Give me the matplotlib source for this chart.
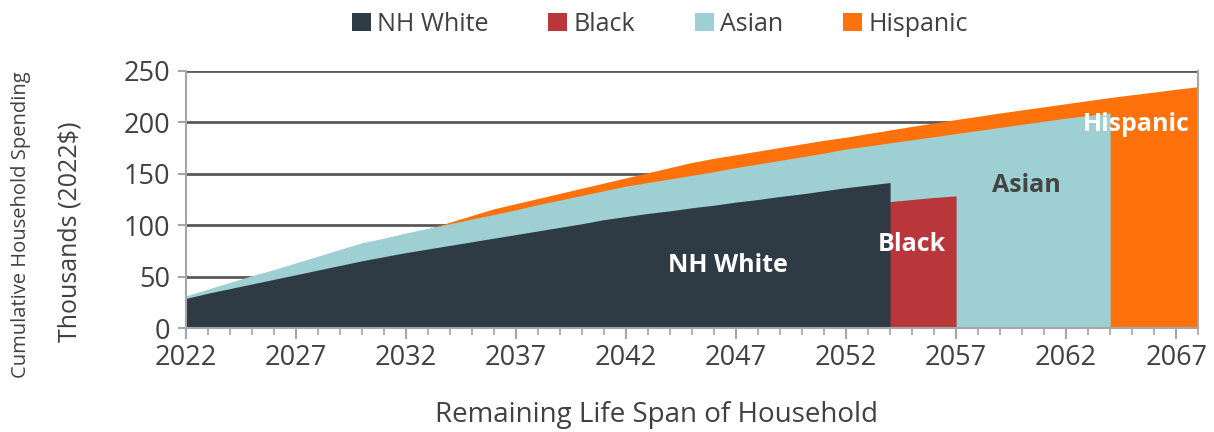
import matplotlib
matplotlib.use("Agg")
import matplotlib.pyplot as plt
from matplotlib.patches import Patch
from matplotlib.ticker import MultipleLocator

years_white = list(range(2022, 2055))
nh_white = [29, 34, 38.5, 43, 47.5, 52, 56.5, 61, 65.5, 69.5, 73.5, 77, 80.5, 84,
            87.5, 91, 94.5, 98, 101.5, 105.5, 108.5, 111.5, 114, 117, 119.5, 122.5,
            125, 128, 130.5, 133.5, 136.5, 139, 141.5]

years_black = list(range(2022, 2058))
black = [24, 28, 32, 36, 40, 44, 48, 52, 55.5, 59, 62.5, 66, 69.5, 73, 76, 79, 82,
         85, 88, 91, 94, 97, 100, 102.5, 105, 107.5, 110, 112.5, 115, 117, 119,
         121, 123, 125, 127, 128.5]

years_asian = list(range(2022, 2065))
asian = [31.5, 38, 44.5, 51, 57, 63.5, 70, 76.5, 83, 87.5, 92.5, 97, 101.5, 106,
         110.5, 115, 120, 124.5, 129, 133.5, 138, 141.5, 145, 148.5, 152, 156,
         159.5, 163, 166.5, 170, 174, 177, 180, 183, 186, 189, 192, 195, 198,
         201, 204, 206.5, 209]

years_hisp = list(range(2022, 2069))
hispanic = [30.5, 37, 43.5, 50, 56, 62.5, 69, 75.5, 82, 86.5, 91.5, 96.5, 103,
            109.5, 116, 121, 126, 131, 136, 141, 146, 151, 156, 161, 165, 168.5,
            172, 175.5, 179, 182.5, 185.5, 189, 192.5, 196, 199.3, 202.6, 205.8,
            209, 212, 215, 218, 221, 224, 226.7, 229.3, 232, 234.5]

series_names = ["NH White", "Black", "Asian", "Hispanic"]
colors = ["#2e3a44", "#b9373b", "#9ecfd3", "#ff710a"]
x_ticks = list(range(2022, 2068, 5))
y_ticks = [0, 50, 100, 150, 200, 250]

plt.rcParams['font.family'] = ['Open Sans', 'DejaVu Sans']
text_color = "#404040"

fig = plt.figure(figsize=(12.14, 4.32), dpi=100)
ax = fig.add_axes([0.153, 0.240, 0.834, 0.5963])

ax.fill_between(years_hisp, 0, hispanic, color=colors[3], lw=0, zorder=2)
ax.fill_between(years_asian, 0, asian, color=colors[2], lw=0, zorder=3)
ax.fill_between(years_black, 0, black, color=colors[1], lw=0, zorder=4)
ax.fill_between(years_white, 0, nh_white, color=colors[0], lw=0, zorder=5)

ax.set_xlim(2022, 2068)
ax.set_ylim(0, 250)
ax.set_yticks(y_ticks)
ax.set_xticks(x_ticks)
ax.xaxis.set_minor_locator(MultipleLocator(1))
for y in y_ticks[1:]:
    ax.axhline(y, color="#5a5a5a", lw=2, zorder=1)

for s in ["left", "bottom", "right"]:
    ax.spines[s].set_color("#a6a6a6")
    ax.spines[s].set_linewidth(1.5)
    ax.spines[s].set_zorder(6)
ax.spines["top"].set_visible(False)

ax.tick_params(axis="y", length=6, width=1.5, color="#a6a6a6", labelsize=19.5,
               labelcolor=text_color, pad=5)
ax.tick_params(axis="x", which="major", direction="inout", length=16, width=1.5,
               color="#a6a6a6", labelsize=19.5, labelcolor=text_color, pad=3)
ax.tick_params(axis="x", which="minor", direction="out", length=5, width=1.2,
               color="#a6a6a6")

ax.set_xlabel("Remaining Life Span of Household", fontsize=20, color=text_color)
ax.xaxis.set_label_coords(0.465, -0.335)
ax.xaxis.label.set_va("center")
ax.set_ylabel("Thousands (2022$)", fontsize=18, color=text_color)
ax.yaxis.set_label_coords(-0.114, 0.374)
ax.yaxis.label.set_va("center")
fig.text(0.017, 0.479, "Cumulative Household Spending", rotation=90, fontsize=14.5,
         color=text_color, ha="center", va="center")

lab_kw = dict(fontsize=18, fontweight="bold", ha="center", va="center", zorder=10)
ax.text(2046.65, 61.4, "NH White", color="white", **lab_kw)
ax.text(2054.97, 81.8, "Black", color="white", **lab_kw)
ax.text(2060.2, 139.0, "Asian", color="#444444", **lab_kw)
ax.text(2065.2, 198.1, "Hispanic", color="white", **lab_kw)

handles = [Patch(facecolor=c, edgecolor="none") for c in colors]
fig.legend(handles, series_names, loc="upper center", bbox_to_anchor=(0.5435, 1.025),
           ncol=4, frameon=False, fontsize=18, handlelength=0.75, handleheight=0.75,
           handletextpad=0.25, columnspacing=2.4, labelcolor=text_color)

fig.savefig("out.png", dpi=100)
